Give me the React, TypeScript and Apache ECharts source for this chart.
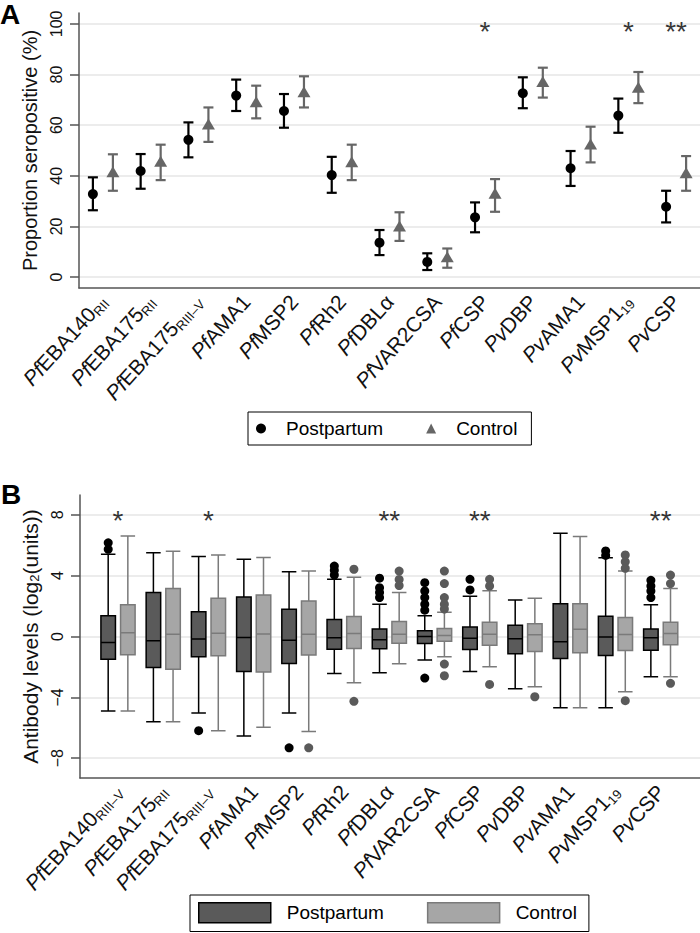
import React, { useEffect, useRef } from "react";
import * as echarts from "echarts";

const FONT = "'Liberation Sans', Arial, Helvetica, sans-serif";

// Category label parts: [species prefix (italic), antigen, subscript]
const labelPartsA = [
  ["Pf", "EBA140", "RII"], ["Pf", "EBA175", "RII"], ["Pf", "EBA175", "RIII–V"], ["Pf", "AMA1", ""],
  ["Pf", "MSP2", ""], ["Pf", "Rh2", ""], ["Pf", "DBLα", ""], ["Pf", "VAR2CSA", ""], ["Pf", "CSP", ""],
  ["Pv", "DBP", ""], ["Pv", "AMA1", ""], ["Pv", "MSP1", "19"], ["Pv", "CSP", ""],
];
const labelPartsB = [
  ["Pf", "EBA140", "RIII–V"], ["Pf", "EBA175", "RII"], ["Pf", "EBA175", "RIII–V"], ["Pf", "AMA1", ""],
  ["Pf", "MSP2", ""], ["Pf", "Rh2", ""], ["Pf", "DBLα", ""], ["Pf", "VAR2CSA", ""], ["Pf", "CSP", ""],
  ["Pv", "DBP", ""], ["Pv", "AMA1", ""], ["Pv", "MSP1", "19"], ["Pv", "CSP", ""],
];
const categoriesA = labelPartsA.map((p) => p.join(""));
const categoriesB = labelPartsB.map((p) => p.join(""));

// Panel A: proportion seropositive (%) with 95% CI
const postEst = [32.8, 41.9, 54.2, 71.7, 65.6, 40.3, 13.6, 6.0, 23.6, 72.6, 43.0, 63.8, 27.8];
const postLo = [26.4, 34.9, 47.3, 65.6, 59.0, 33.3, 8.7, 2.8, 17.7, 66.7, 36.0, 57.0, 21.6];
const postHi = [39.4, 48.6, 61.1, 78.0, 72.3, 47.5, 18.6, 9.4, 29.5, 78.9, 49.8, 70.5, 34.1];
const ctrlEst = [41.6, 45.8, 60.5, 69.3, 73.2, 45.6, 20.2, 8.0, 33.1, 77.2, 52.6, 75.0, 41.2];
const ctrlLo = [34.1, 38.3, 53.4, 62.7, 67.0, 38.3, 14.3, 3.7, 25.8, 70.9, 45.3, 68.7, 34.1];
const ctrlHi = [48.5, 52.3, 67.0, 75.6, 79.3, 52.3, 25.6, 11.3, 38.7, 82.7, 59.4, 81.0, 47.8];
const sigA = ["", "", "", "", "", "", "", "", "*", "", "", "*", "**"];
const ticksA = [0, 20, 40, 60, 80, 100];

// Panel B: antibody levels, [min, Q1, median, Q3, max]
const boxPost = [
  [-4.9, -1.49, -0.39, 1.36, 5.4],
  [-5.6, -2.03, -0.28, 2.89, 5.5],
  [-5.03, -1.33, -0.17, 1.62, 5.25],
  [-6.54, -2.3, -0.07, 2.6, 5.07],
  [-5.03, -1.77, -0.24, 1.79, 4.26],
  [-2.43, -0.83, -0.09, 1.11, 3.76],
  [-2.38, -0.81, -0.22, 0.5, 2.12],
  [-1.55, -0.46, 0.0, 0.37, 1.36],
  [-2.3, -0.85, -0.11, 0.63, 2.64],
  [-3.43, -1.14, -0.15, 0.74, 2.4],
  [-4.68, -1.44, -0.35, 2.16, 6.78],
  [-4.68, -1.25, -0.04, 1.33, 5.18],
  [-2.64, -0.9, -0.09, 0.5, 2.08],
];
const boxCtrl = [
  [-4.9, -1.2, 0.24, 2.08, 6.6],
  [-5.6, -2.16, 0.15, 3.15, 5.6],
  [-6.19, -1.27, 0.22, 2.51, 5.36],
  [-5.97, -2.34, 0.17, 2.73, 5.2],
  [-6.25, -1.22, 0.15, 2.34, 4.3],
  [-3.04, -0.79, 0.2, 1.31, 3.9],
  [-1.79, -0.44, 0.15, 0.98, 2.9],
  [-1.33, -0.31, 0.07, 0.52, 1.6],
  [-1.99, -0.57, 0.15, 0.94, 3.0],
  [-3.3, -0.98, 0.11, 0.83, 2.51],
  [-4.68, -1.07, 0.48, 2.16, 6.58],
  [-3.63, -0.92, 0.13, 1.25, 4.3],
  [-2.64, -0.55, 0.2, 0.94, 3.15],
];
const outPost = [
  [0, 6.16], [0, 5.73], [2, -6.19], [4, -7.32],
  [5, 4.63], [5, 4.35], [5, 4.04],
  [6, 3.83], [6, 3.21], [6, 2.89], [6, 2.56],
  [7, 3.54], [7, 2.99], [7, 2.56], [7, 2.12], [7, 1.73], [7, -2.73],
  [8, 3.76], [8, 3.06],
  [11, 5.62], [11, 5.33],
  [12, 3.69], [12, 3.32], [12, 2.99], [12, 2.56],
];
const outCtrl = [
  [4, -7.32],
  [5, 4.42], [5, -4.26],
  [6, 4.3], [6, 3.75], [6, 3.35],
  [7, 4.3], [7, 3.48], [7, 2.56], [7, 2.12], [7, 1.8], [7, -1.81], [7, -2.58],
  [8, 3.76], [8, 3.32], [8, -3.15],
  [9, -3.96],
  [11, 5.36], [11, 4.92], [11, 4.48], [11, -4.22],
  [12, 4.04], [12, 3.48], [12, -3.08],
];
const sigB = ["*", "", "*", "", "", "", "**", "", "**", "", "", "", "**"];
const ticksB = [-8, -4, 0, 4, 8];

const POST_FILL = "#5a5a5a";
const CTRL_FILL = "#a6a6a6";
const CTRL_LINE = "#7a7a7a";
const TRI = "#666666";
const AXIS = "#555555";
const GRIDC = "#e6e6e6";

const richLabel = {
  i: { fontStyle: "italic", fontSize: 21, lineHeight: 24, color: "#111", fontFamily: FONT },
  n: { fontSize: 21, lineHeight: 24, color: "#111", fontFamily: FONT },
  s: { fontSize: 13, lineHeight: 13, verticalAlign: "bottom", color: "#111", fontFamily: FONT },
};
const makeFormatter = (parts: string[][]) => (_v: string, idx: number) => {
  const p = parts[idx];
  return `{i|${p[0]}}{n|${p[1]}}` + (p[2] ? `{s|${p[2]}}` : "");
};

function makeErr(offset: number, color: string) {
  return (_params: any, api: any) => {
    const i = api.value(0);
    const lo = api.coord([i, api.value(1)]);
    const hi = api.coord([i, api.value(2)]);
    const x = lo[0] + offset;
    const cap = 5;
    const style = { stroke: color, lineWidth: 2.2 };
    return {
      type: "group",
      children: [
        { type: "line", shape: { x1: x, y1: lo[1], x2: x, y2: hi[1] }, style },
        { type: "line", shape: { x1: x - cap, y1: lo[1], x2: x + cap, y2: lo[1] }, style },
        { type: "line", shape: { x1: x - cap, y1: hi[1], x2: x + cap, y2: hi[1] }, style },
      ],
    };
  };
}

const minus = (v: number) => (v < 0 ? "\u2212" + Math.abs(v) : String(v));

export default function App() {
  const ref = useRef<HTMLDivElement>(null);
  useEffect(() => {
    document.body.style.margin = "0";
    const chart = echarts.init(ref.current!, null, { renderer: "svg" });
    const axisLineStyle = { color: AXIS, width: 1.5 };
    const option: any = {
      animation: false,
      textStyle: { fontFamily: FONT },
      graphic: [
        { type: "text", x: 0, y: 0, style: { text: "A", font: `bold 28px ${FONT}`, fill: "#000", verticalAlign: "top" } },
        { type: "text", x: 1, y: 480, style: { text: "B", font: `bold 28px ${FONT}`, fill: "#000", verticalAlign: "top" } },
      ],
      grid: [
        { left: 79, right: 0, top: 13, height: 275 },
        { left: 80, right: 0, top: 495, height: 283 },
        { left: 95.4, right: 16.7, top: 495, height: 283 },
      ],
      xAxis: [
        {
          gridIndex: 0, type: "category", data: categoriesA, boundaryGap: true,
          axisLine: { onZero: false, lineStyle: axisLineStyle },
          axisTick: { alignWithLabel: true, length: 8, lineStyle: axisLineStyle },
          axisLabel: { interval: 0, rotate: 48, margin: 10, formatter: makeFormatter(labelPartsA), rich: richLabel },
          splitLine: { show: false },
        },
        {
          gridIndex: 1, type: "value", min: 0, max: 1,
          axisLine: { show: true, onZero: false, lineStyle: axisLineStyle },
          axisTick: { show: false }, axisLabel: { show: false }, splitLine: { show: false },
        },
        {
          gridIndex: 2, type: "category", data: categoriesB, boundaryGap: true,
          axisLine: { show: false, onZero: false }, axisTick: { show: false },
          axisLabel: { interval: 0, rotate: 48, margin: 10, formatter: makeFormatter(labelPartsB), rich: richLabel },
          splitLine: { show: false },
        },
      ],
      yAxis: [
        {
          gridIndex: 0, type: "value", min: -4.3, max: 104.3,
          axisLine: { show: true, onZero: false, lineStyle: axisLineStyle },
          axisTick: { show: true, length: 9, customValues: ticksA, lineStyle: axisLineStyle },
          axisLabel: { customValues: ticksA, rotate: 90, margin: 15, fontSize: 16, color: "#111" },
          splitLine: { show: true, lineStyle: { color: GRIDC, width: 1.5 } },
          name: "Proportion seropositive (%)", nameLocation: "middle", nameGap: 33, nameRotate: 90,
          nameTextStyle: { fontSize: 20, color: "#111" },
        },
        {
          gridIndex: 1, type: "value", min: -9.3, max: 9.3,
          axisLine: { show: true, onZero: false, lineStyle: axisLineStyle },
          axisTick: { show: true, length: 9, customValues: ticksB, lineStyle: axisLineStyle },
          axisLabel: { customValues: ticksB, rotate: 90, margin: 15, fontSize: 16, color: "#111", formatter: minus },
          splitLine: { show: true, lineStyle: { color: GRIDC, width: 1.5 } },
          name: "Antibody levels (log{sub|2}(units))", nameLocation: "middle", nameGap: 33, nameRotate: 90,
          nameTextStyle: { fontSize: 21, color: "#111", rich: { sub: { fontSize: 13, lineHeight: 13, verticalAlign: "bottom", color: "#111" } } },
        },
        { gridIndex: 2, type: "value", min: -9.3, max: 9.3, show: false },
      ],
      legend: [
        {
          left: 248, top: 412, orient: "horizontal", selectedMode: false,
          data: [
            { name: "Postpartum", icon: "circle", itemStyle: { color: "#000", borderWidth: 0 } },
            { name: "Control", icon: "triangle", itemStyle: { color: TRI, borderWidth: 0 } },
          ],
          itemWidth: 10, itemHeight: 10, itemGap: 43, padding: [7, 14, 7, 8],
          borderColor: "#000", borderWidth: 1,
          textStyle: { fontSize: 19, color: "#000", padding: [0, 0, 0, 15] },
        },
        {
          left: 190, top: 895, orient: "horizontal", selectedMode: false,
          data: [
            { name: "Postpartum", icon: "rect", itemStyle: { color: POST_FILL, borderColor: "#000", borderWidth: 1.5 } },
            { name: "Control", icon: "rect", itemStyle: { color: CTRL_FILL, borderColor: CTRL_LINE, borderWidth: 1.5 } },
          ],
          itemWidth: 72, itemHeight: 20, itemGap: 43, padding: [7, 12, 8, 8],
          borderColor: "#000", borderWidth: 1,
          textStyle: { fontSize: 19, color: "#000", padding: [0, 0, 0, 11] },
        },
      ],
      series: [
        {
          type: "custom", name: "Postpartum CI", xAxisIndex: 0, yAxisIndex: 0, z: 2,
          renderItem: makeErr(-10, "#000"),
          data: postLo.map((lo, i) => [i, lo, postHi[i]]), encode: { x: 0, y: [1, 2] },
        },
        {
          type: "custom", name: "Control CI", xAxisIndex: 0, yAxisIndex: 0, z: 2,
          renderItem: makeErr(10, TRI),
          data: ctrlLo.map((lo, i) => [i, lo, ctrlHi[i]]), encode: { x: 0, y: [1, 2] },
        },
        {
          type: "scatter", name: "Postpartum", xAxisIndex: 0, yAxisIndex: 0, z: 3,
          data: postEst.map((v, i) => [i, v]), symbol: "circle", symbolSize: 10, symbolOffset: [-10, 0],
          itemStyle: { color: "#000", opacity: 1 },
        },
        {
          type: "scatter", name: "Control", xAxisIndex: 0, yAxisIndex: 0, z: 3,
          data: ctrlEst.map((v, i) => [i, v]), symbol: "triangle", symbolSize: [13, 11], symbolOffset: [10, 0],
          itemStyle: { color: TRI, opacity: 1 },
        },
        {
          type: "scatter", name: "sigA", xAxisIndex: 0, yAxisIndex: 0, silent: true,
          data: sigA.map((s, i) => ({ value: [i, 100], star: s })).filter((d) => d.star),
          symbolSize: 1, itemStyle: { color: "rgba(0,0,0,0)" },
          label: { show: true, position: "inside", formatter: (p: any) => p.data.star, fontSize: 28, color: "#000", offset: [0, 8] },
        },
        {
          type: "boxplot", name: "Postpartum", xAxisIndex: 2, yAxisIndex: 2, data: boxPost,
          itemStyle: { color: POST_FILL, borderColor: "#000", borderWidth: 1.5 },
        },
        {
          type: "boxplot", name: "Control", xAxisIndex: 2, yAxisIndex: 2, data: boxCtrl,
          itemStyle: { color: CTRL_FILL, borderColor: CTRL_LINE, borderWidth: 1.5 },
        },
        {
          type: "scatter", name: "Postpartum outliers", xAxisIndex: 2, yAxisIndex: 2, z: 3,
          data: outPost, symbolSize: 9, symbolOffset: [-9.8, 0], itemStyle: { color: "#000", opacity: 1 },
        },
        {
          type: "scatter", name: "Control outliers", xAxisIndex: 2, yAxisIndex: 2, z: 3,
          data: outCtrl, symbolSize: 9, symbolOffset: [9.8, 0], itemStyle: { color: POST_FILL, opacity: 1 },
        },
        {
          type: "scatter", name: "sigB", xAxisIndex: 2, yAxisIndex: 2, silent: true,
          data: sigB.map((s, i) => ({ value: [i, 8], star: s })).filter((d) => d.star),
          symbolSize: 1, itemStyle: { color: "rgba(0,0,0,0)" },
          label: { show: true, position: "inside", formatter: (p: any) => p.data.star, fontSize: 28, color: "#000", offset: [0, 6] },
        },
      ],
    };
    chart.setOption(option);
    return () => chart.dispose();
  }, []);
  return <div ref={ref} style={{ width: 700, height: 933 }} />;
}
